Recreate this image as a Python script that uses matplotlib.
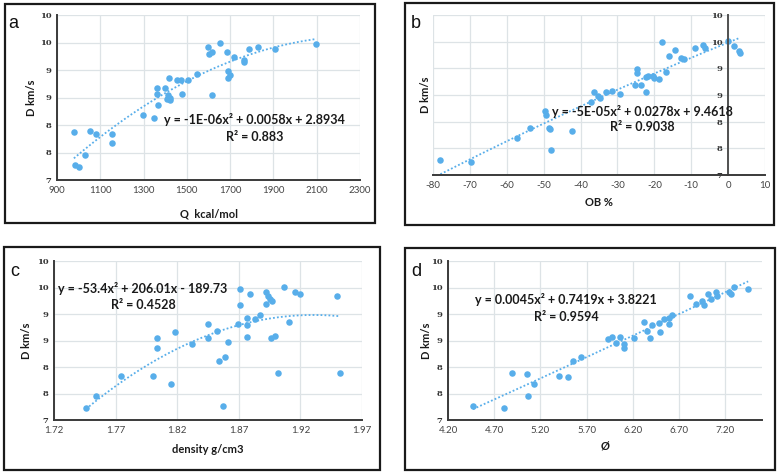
import numpy as np
import matplotlib
matplotlib.use("Agg")
import matplotlib.pyplot as plt
from matplotlib.patches import Rectangle
from matplotlib.ticker import FuncFormatter, FixedLocator

# ---- data ----
q_kcal = [978, 982, 1002, 1029, 1052, 1079, 1156, 1156, 1299, 1346, 1360, 1363,
          1366, 1397, 1406, 1414, 1417, 1420, 1422, 1453, 1473, 1507, 1479, 1547,
          1597, 1604, 1614, 1617, 1653, 1687, 1691, 1691, 1699, 1717, 1765, 1765,
          1787, 1831, 1905, 2099]
d_a = [7.88, 7.28, 7.24, 7.45, 7.89, 7.84, 7.84, 7.68, 8.19, 8.12, 8.56, 8.68,
       8.36, 8.67, 8.48, 8.55, 8.85, 8.45, 8.50, 8.82, 8.82, 8.81, 8.56, 8.93,
       9.41, 9.29, 9.32, 8.55, 9.50, 9.33, 8.98, 8.85, 8.91, 9.23, 9.18, 9.15,
       9.38, 9.41, 9.38, 9.48]

ob = [-78.0, -69.8, -57.1, -53.7, -49.7, -49.3, -48.6, -48.3, -48.0, -42.2,
      -37.1, -36.3, -35.2, -34.8, -33.2, -31.6, -29.4, -25.3, -24.8, -24.7,
      -23.7, -22.3, -22.3, -21.6, -20.4, -20.2, -18.6, -18.0, -16.8, -15.9,
      -14.4, -12.8, -12.0, -8.9, -6.8, -6.2, -0.1, 1.6, 3.0, 3.3]
d_b = [7.28, 7.24, 7.69, 7.89, 8.20, 8.13, 7.88, 7.86, 7.46, 7.83,
       8.37, 8.56, 8.48, 8.45, 8.56, 8.58, 8.52, 8.68, 8.99, 8.92,
       8.69, 8.83, 8.55, 8.86, 8.86, 8.81, 8.80, 9.49, 8.94, 9.24,
       9.34, 9.19, 9.17, 9.38, 9.43, 9.38, 9.51, 9.41, 9.33, 9.29]

density = [1.746, 1.754, 1.774, 1.800, 1.804, 1.804, 1.815, 1.818, 1.832, 1.845,
           1.845, 1.852, 1.854, 1.857, 1.859, 1.861, 1.869, 1.871, 1.871, 1.877,
           1.877, 1.877, 1.879, 1.883, 1.887, 1.892, 1.892, 1.894, 1.895, 1.897,
           1.896, 1.899, 1.902, 1.907, 1.911, 1.916, 1.920, 1.950, 1.952]
d_c = [7.23, 7.45, 7.83, 7.83, 8.54, 8.36, 7.67, 8.66, 8.44, 8.82,
       8.55, 8.67, 8.12, 7.27, 8.18, 8.47, 8.82, 9.48, 9.17, 8.93,
       8.80, 8.57, 9.38, 8.91, 8.98, 9.42, 9.18, 9.34, 9.29, 9.25,
       8.54, 8.58, 7.88, 9.51, 8.85, 9.42, 9.37, 9.34, 7.89]

phi = [4.47, 4.81, 4.89, 5.06, 5.07, 5.13, 5.40, 5.50, 5.55, 5.64,
       5.93, 5.98, 6.02, 6.06, 6.11, 6.11, 6.21, 6.32, 6.35, 6.39,
       6.41, 6.48, 6.50, 6.54, 6.59, 6.59, 6.63, 6.82, 6.89, 6.95,
       6.97, 7.02, 7.05, 7.10, 7.11, 7.24, 7.26, 7.30, 7.45]
d_d = [7.26, 7.23, 7.89, 7.87, 7.45, 7.67, 7.83, 7.82, 8.11, 8.19,
       8.52, 8.56, 8.46, 8.56, 8.44, 8.35, 8.54, 8.85, 8.68, 8.54,
       8.80, 8.83, 8.66, 8.90, 8.82, 8.93, 8.98, 9.34, 9.18, 9.24,
       9.17, 9.37, 9.29, 9.42, 9.34, 9.42, 9.37, 9.51, 9.48]

y_ticks = [7, 7.5, 8, 8.5, 9, 9.5, 10]
xticks_a = [900, 1100, 1300, 1500, 1700, 1900, 2100, 2300]
xticks_b = [-80, -70, -60, -50, -40, -30, -20, -10, 0, 10]
xticks_c = [1.72, 1.77, 1.82, 1.87, 1.92, 1.97]
xticks_d = [4.20, 4.70, 5.20, 5.70, 6.20, 6.70, 7.20]

panels = [
    # letter, x, y, xlabel, xlim, xticks, xfmt, equation, r2
    ("a", q_kcal, d_a, "Q  kcal/mol", (900, 2300), xticks_a, "{:.0f}",
     "y = -1E-06x\u00b2 + 0.0058x + 2.8934", "R\u00b2 = 0.883"),
    ("b", ob, d_b, "OB %", (-80, 10), xticks_b, "{:.0f}",
     "y = -5E-05x\u00b2 + 0.0278x + 9.4618", "R\u00b2 = 0.9038"),
    ("c", density, d_c, "density g/cm3", (1.72, 1.97), xticks_c, "{:.2f}",
     "y = -53.4x\u00b2 + 206.01x - 189.73", "R\u00b2 = 0.4528"),
    ("d", phi, d_d, "\u00d8", (4.2, 7.6), xticks_d, "{:.2f}",
     "y = 0.0045x\u00b2 + 0.7419x + 3.8221", "R\u00b2 = 0.9594"),
]

W, H = 779, 474
# plot areas and frames in pixels (left, top, right, bottom)
plot_px = [(57, 15, 360, 180), (433, 15, 765, 175), (54, 261, 362, 420), (448, 261, 762, 420)]
box_px = [(5, 4, 375, 223), (405, 3, 774, 225), (4, 247, 380, 470), (405, 248, 775, 470)]
letter_px = [(13, 23), (416, 23), (15, 272), (416, 272)]
eq_pos = [(0.653, 0.364, 0.26), (0.63, 0.40, 0.30), (0.289, 0.824, 0.723), (0.376, 0.761, 0.648)]
ylab_x = [-0.066, -0.006, -0.071, -0.05]
xlab_y = [-0.175, -0.14, -0.15, -0.13]

blue = "#58aeea"
plt.rcParams["font.family"] = ["Lato", "DejaVu Sans"]

fig = plt.figure(figsize=(W / 100, H / 100), dpi=100)


def excel_round(v, pos):
    return "{:d}".format(int(np.floor(v + 0.5)))


for i, (letter, xs, ys, xlabel, xlim, xticks, xfmt, eq, r2) in enumerate(panels):
    l, t, r, b = box_px[i]
    fig.patches.append(Rectangle((l / W, 1 - b / H), (r - l) / W, (b - t) / H,
                                 transform=fig.transFigure, fill=False,
                                 edgecolor="#1a1a1a", linewidth=1.6))
    l, t, r, b = plot_px[i]
    ax = fig.add_axes([l / W, 1 - b / H, (r - l) / W, (b - t) / H])

    for side in ("top", "right"):
        ax.spines[side].set_visible(False)
    for side in ("left", "bottom"):
        ax.spines[side].set_color("#3a3a3a")
        ax.spines[side].set_linewidth(1.4)
        ax.spines[side].set_zorder(4)
    if letter == "b":
        # y axis crosses at OB = 0, as in the excel chart
        ax.spines["left"].set_position(("data", 0))
        ax.spines["left"].set_color("#505050")

    xs = np.array(xs)
    ys = np.array(ys)
    ax.scatter(xs, ys, s=22, color=blue, zorder=3, linewidths=0)

    # quadratic trendline fitted to the points
    coef = np.polyfit(xs, ys, 2)
    xt = np.linspace(xs.min(), xs.max(), 200)
    ax.plot(xt, np.polyval(coef, xt), linestyle=(0, (1, 1.2)), color=blue,
            linewidth=1.3, zorder=2)

    ax.set_xlim(*xlim)
    ax.set_ylim(7, 10)
    ax.xaxis.set_major_locator(FixedLocator(xticks))
    ax.yaxis.set_major_locator(FixedLocator(y_ticks))
    ax.xaxis.set_major_formatter(FuncFormatter(lambda v, p, f=xfmt: f.format(v)))
    ax.yaxis.set_major_formatter(FuncFormatter(excel_round))
    ax.grid(True, color="#dde3e6", linewidth=0.9, zorder=0)
    ax.set_axisbelow(True)
    ax.tick_params(length=0, pad=4)
    ax.tick_params(axis="x", labelsize=7, labelcolor="#444444")
    ax.tick_params(axis="y", labelsize=6, labelcolor="#333333",
                   labelfontfamily="DejaVu Serif")
    for tk in ax.yaxis.get_major_ticks():
        tk.label1.set_fontweight("bold")

    ax.set_ylabel("D km/s", fontsize=8, fontweight="bold", color="#1a1a1a")
    ax.yaxis.set_label_coords(ylab_x[i], 0.5)
    ax.set_xlabel(xlabel, fontsize=8, fontweight="bold", color="#1a1a1a")
    ax.xaxis.set_label_coords(0.5, xlab_y[i])

    ex, ey, ry = eq_pos[i]
    ax.text(ex, ey, eq, transform=ax.transAxes, ha="center", va="center",
            fontsize=9, fontweight="bold", color="#1a1a1a", zorder=5)
    ax.text(ex, ry, r2, transform=ax.transAxes, ha="center", va="center",
            fontsize=9, fontweight="bold", color="#1a1a1a", zorder=5)

    lx, ly = letter_px[i]
    fig.text(lx / W, 1 - ly / H, letter, fontsize=13, ha="center", va="center",
             family=["Liberation Sans", "DejaVu Sans"], color="#111111")

fig.savefig("out.png", dpi=100)
